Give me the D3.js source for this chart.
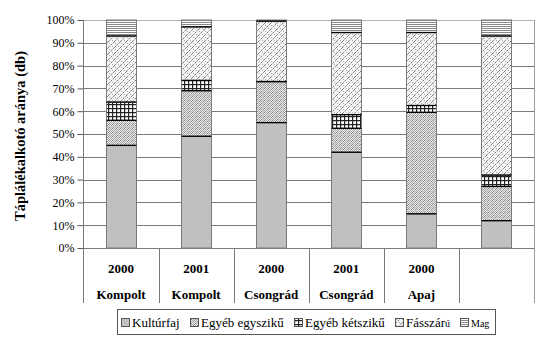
<!DOCTYPE html>
<html>
<head>
<meta charset="utf-8">
<script src="https://cdn.jsdelivr.net/npm/d3@7"></script>
<style>
  html, body { margin: 0; padding: 0; background: #fff; }
  svg { display: block; }
</style>
</head>
<body>
<svg id="chart" width="544" height="339"></svg>
<script>
// Sample sites: year and location of each column
const years = ["2000", "2001", "2000", "2001", "2000", ""];
const sites = ["Kompolt", "Kompolt", "Csongrád", "Csongrád", "Apaj", ""];

// Food component groups (stack order, bottom to top)
const groups = ["Kultúrfaj", "Egyéb egyszikű", "Egyéb kétszikű", "Fásszárú", "Mag"];

// Share of each group per column (%)
const kulturfaj      = [45, 49, 55, 42, 15, 12];
const egyebEgyszikű  = [11, 20, 18, 10.5, 44.5, 15];
const egyebKetszikű  = [8, 4.5, 0, 6, 3, 5];
const fasszaru       = [29, 23.5, 26.5, 36, 32, 61];
const mag            = [7, 3, 0.5, 5.5, 5.5, 7];

const yTicks = [0, 10, 20, 30, 40, 50, 60, 70, 80, 90, 100];

const seriesValues = [kulturfaj, egyebEgyszikű, egyebKetszikű, fasszaru, mag];
const rows = years.map((y, i) => {
  const r = { key: i };
  groups.forEach((g, j) => r[g] = seriesValues[j][i]);
  return r;
});

const FONT = '"Liberation Serif"';
const svg = d3.select("#chart");
const margin = { left: 83.5, right: 534, top: 20, bottom: 248 };

const x = d3.scaleBand().domain(d3.range(years.length))
  .range([margin.left, margin.right]).paddingInner(0.6).paddingOuter(0.3);
const xBand = d3.scaleBand().domain(d3.range(years.length))
  .range([margin.left, margin.right]);
const y = d3.scaleLinear().domain([0, 100]).range([margin.bottom, margin.top]);

// Fill patterns for the groups
const defs = svg.append("defs");
function pat(id, w, h, build) {
  const p = defs.append("pattern").attr("id", id).attr("patternUnits", "userSpaceOnUse")
    .attr("width", w).attr("height", h);
  build(p);
}
pat("p-kultur", 4, 4, p => p.append("rect").attr("width", 4).attr("height", 4).attr("fill", "#c0c0c0"));
pat("p-egyszik", 4, 4, p => {
  p.append("rect").attr("width", 4).attr("height", 4).attr("fill", "#e6e6e6");
  [[0,0],[2,0],[1,1],[3,1],[0,2],[2,2],[1,3],[3,3]].forEach(([a,b], k) =>
    p.append("rect").attr("x", a).attr("y", b).attr("width", 1).attr("height", 1)
      .attr("fill", k % 3 === 0 ? "#8a8a8a" : "#b0b0b0"));
});
pat("p-ketszik", 4, 4, p => {
  p.append("rect").attr("width", 4).attr("height", 4).attr("fill", "#ffffff");
  p.append("rect").attr("x", 0).attr("y", 0).attr("width", 4).attr("height", 1.2).attr("fill", "#222");
  p.append("rect").attr("x", 0).attr("y", 0).attr("width", 1.2).attr("height", 4).attr("fill", "#222");
});
pat("p-fas", 6, 6, p => {
  p.append("rect").attr("width", 6).attr("height", 6).attr("fill", "#f4f4f4");
  p.append("path").attr("d", "M0,6 L6,0 M-1,1 L1,-1 M5,7 L7,5")
    .attr("stroke", "#777").attr("stroke-width", 1).attr("stroke-dasharray", "2.5,1.2");
  p.append("rect").attr("x", 1).attr("y", 1).attr("width", 1).attr("height", 1).attr("fill", "#aaa");
  p.append("rect").attr("x", 4).attr("y", 4).attr("width", 1).attr("height", 1).attr("fill", "#aaa");
});
pat("p-mag", 4, 2, p => {
  p.append("rect").attr("width", 4).attr("height", 2).attr("fill", "#ffffff");
  p.append("rect").attr("y", 0).attr("width", 4).attr("height", 1).attr("fill", "#888");
});
const fills = ["url(#p-kultur)", "url(#p-egyszik)", "url(#p-ketszik)", "url(#p-fas)", "url(#p-mag)"];

// Horizontal gridlines
svg.append("g").selectAll("line").data(yTicks).join("line")
  .attr("x1", margin.left).attr("x2", margin.right)
  .attr("y1", d => Math.round(y(d)) + 0.5).attr("y2", d => Math.round(y(d)) + 0.5)
  .attr("stroke", d => d === 100 ? "#b0b0b0" : "#7a7a7a").attr("stroke-width", 1);

// Y axis with percentage ticks
const yAxis = d3.axisLeft(y).tickValues(yTicks).tickFormat(d => d + "%").tickSize(6).tickPadding(3);
const ya = svg.append("g").attr("transform", `translate(${margin.left},0)`).call(yAxis);
ya.select(".domain").remove();
ya.selectAll(".tick line").attr("stroke", "#555");
ya.selectAll(".tick text").style("font-family", FONT).attr("font-size", 12).attr("fill", "#000");

// Stacked columns
const stack = d3.stack().keys(groups);
const layers = stack(rows);
const gBars = svg.append("g");
layers.forEach((layer, li) => {
  gBars.append("g").selectAll("rect").data(layer).join("rect")
    .attr("x", (d, i) => Math.round(x(i)) + 0.5)
    .attr("width", Math.round(x.bandwidth()))
    .attr("y", d => y(d[1]))
    .attr("height", d => Math.max(0, y(d[0]) - y(d[1])))
    .attr("fill", fills[li])
    .attr("stroke", "#7a7a7a").attr("stroke-width", 1);
});
// Boundaries between stacked segments
layers.slice(0, -1).forEach(layer => {
  gBars.append("g").selectAll("line").data(layer).join("line")
    .attr("x1", (d, i) => Math.round(x(i)) + 0.5)
    .attr("x2", (d, i) => Math.round(x(i)) + 0.5 + Math.round(x.bandwidth()))
    .attr("y1", d => y(d[1])).attr("y2", d => y(d[1]))
    .attr("stroke", "#000").attr("stroke-width", 1.3);
});

// Category axis: left/right border and dividers
const catBottom = 303;
svg.append("line").attr("x1", margin.left).attr("x2", margin.left)
  .attr("y1", margin.top).attr("y2", catBottom).attr("stroke", "#7a7a7a");
svg.append("line").attr("x1", margin.right + 0.5).attr("x2", margin.right + 0.5)
  .attr("y1", margin.top).attr("y2", catBottom).attr("stroke", "#9a9a9a");
svg.append("g").selectAll("line").data(d3.range(1, years.length)).join("line")
  .attr("x1", i => Math.round(xBand(i)) + 0.5).attr("x2", i => Math.round(xBand(i)) + 0.5)
  .attr("y1", margin.bottom).attr("y2", catBottom).attr("stroke", "#7a7a7a");

const cat = svg.append("g");
cat.selectAll("text.yr").data(years).join("text").attr("class", "yr")
  .attr("x", (d, i) => xBand(i) + xBand.bandwidth() / 2).attr("y", 273)
  .attr("text-anchor", "middle").style("font-family", FONT)
  .attr("font-size", 13).attr("font-weight", "bold").text(d => d);
cat.selectAll("text.site").data(sites).join("text").attr("class", "site")
  .attr("x", (d, i) => xBand(i) + xBand.bandwidth() / 2).attr("y", 299)
  .attr("text-anchor", "middle").style("font-family", FONT)
  .attr("font-size", 13).attr("font-weight", "bold").text(d => d);

// Y axis title
svg.append("text").style("font-family", FONT)
  .attr("transform", "translate(25,136) rotate(-90)")
  .attr("text-anchor", "middle").attr("font-size", 14.5).attr("font-weight", "bold")
  .text("Táplálékalkotó aránya (db)");

// Legend: items spread evenly across a fixed box
const lgLeft = 117.5, lgRight = 495.5;
const lg = svg.append("g");
lg.append("rect").attr("x", lgLeft).attr("y", 309.5).attr("width", lgRight - lgLeft).attr("height", 25)
  .attr("fill", "#fff").attr("stroke", "#555");
const items = groups.map((g, i) => {
  const it = lg.append("g");
  it.append("rect").attr("x", 0.5).attr("y", 318.5).attr("width", 8).attr("height", 8)
    .attr("fill", fills[i]).attr("stroke", "#555");
  const t = it.append("text").attr("x", 11).attr("y", 327).style("font-family", FONT)
    .attr("font-size", g === "Mag" ? 10 : 13).attr("fill", "#000");
  if (g === "Fásszárú") {
    t.append("tspan").text("Fásszár");
    t.append("tspan").attr("font-size", 10).text("ú");
  } else {
    t.text(g);
  }
  return { g: it, w: 11 + t.node().getComputedTextLength() };
});
const startX = lgLeft + 3.5, endX = lgRight - 6;
const totalW = d3.sum(items, d => d.w);
const gap = (endX - startX - totalW) / (items.length - 1);
let lx = startX;
items.forEach(d => { d.g.attr("transform", `translate(${Math.round(lx)},0)`); lx += d.w + gap; });
</script>
</body>
</html>
